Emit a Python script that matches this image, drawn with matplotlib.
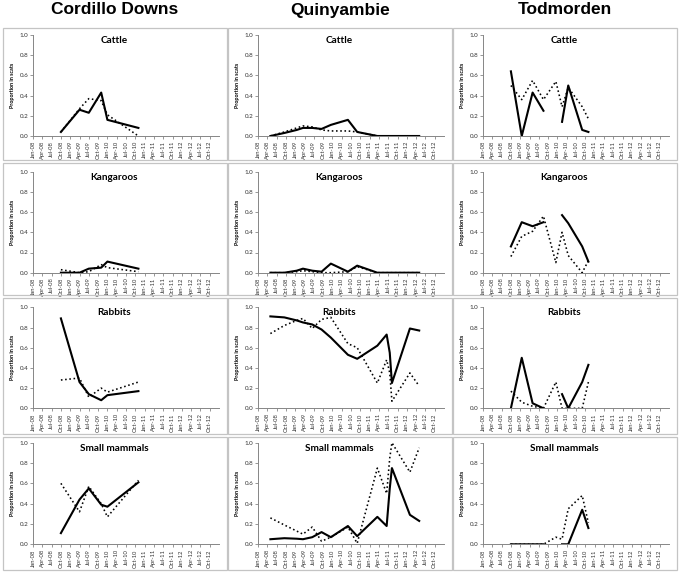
import numpy as np
import matplotlib
matplotlib.use('Agg')
import matplotlib.pyplot as plt
from matplotlib.patches import Rectangle

sites = ['Cordillo Downs', 'Quinyambie', 'Todmorden']
animals = ['Cattle', 'Kangaroos', 'Rabbits', 'Small mammals']
tick_labels = ['Jan-08', 'Apr-08', 'Jul-08', 'Oct-08',
               'Jan-09', 'Apr-09', 'Jul-09', 'Oct-09',
               'Jan-10', 'Apr-10', 'Jul-10', 'Oct-10',
               'Jan-11', 'Apr-11', 'Jul-11', 'Oct-11',
               'Jan-12', 'Apr-12', 'Jul-12', 'Oct-12']

# sampling dates, in months after Jan-08
cd_months = [9, 15, 18, 22, 24, 34]
qy_months = [4, 8.5, 12.5, 14.5, 17.5, 20.5, 23.5, 29, 32, 38.5, 41.5, 42.5, 43.2, 49, 52]
td_months = [9, 12.5, 16, 19.5, 23.5, 25.5, 27.5, 32, 34]

nan = np.nan

# Cordillo Downs
cd_cattle_solid = [0.04, 0.26, 0.23, 0.43, 0.16, 0.08]
cd_cattle_dot = [0.04, 0.27, 0.37, 0.35, 0.21, 0.0]
cd_kang_solid = [0.0, 0.0, 0.04, 0.05, 0.11, 0.04]
cd_kang_dot = [0.03, 0.0, 0.01, 0.08, 0.05, 0.01]
cd_rabbit_solid = [0.89, 0.26, 0.14, 0.08, 0.13, 0.17]
cd_rabbit_dot = [0.28, 0.30, 0.11, 0.20, 0.16, 0.26]
cd_small_solid = [0.11, 0.44, 0.55, 0.39, 0.37, 0.61]
cd_small_dot = [0.60, 0.32, 0.57, 0.40, 0.27, 0.63]

# Quinyambie
qy_cattle_solid = [0.0, 0.03, 0.06, 0.08, 0.08, 0.07, 0.11, 0.16, 0.04, 0.0, 0.0, 0.0, 0.0, 0.0, 0.0]
qy_cattle_dot = [0.0, 0.04, 0.08, 0.10, 0.09, 0.06, 0.05, 0.05, 0.04, 0.0, 0.0, 0.0, 0.0, 0.0, 0.0]
qy_kang_solid = [0.0, 0.0, 0.02, 0.04, 0.02, 0.01, 0.09, 0.01, 0.07, 0.0, 0.0, 0.0, 0.0, 0.0, 0.0]
qy_kang_dot = [0.0, 0.0, 0.01, 0.02, 0.01, 0.0, 0.0, 0.01, 0.06, 0.0, 0.0, 0.0, 0.0, 0.0, 0.0]
qy_rabbit_solid = [0.91, 0.90, 0.87, 0.85, 0.83, 0.78, 0.70, 0.53, 0.49, 0.62, 0.73, 0.55, 0.25, 0.79, 0.77]
qy_rabbit_dot = [0.74, 0.82, 0.87, 0.89, 0.79, 0.88, 0.90, 0.64, 0.60, 0.25, 0.48, 0.35, 0.07, 0.35, 0.22]
qy_small_solid = [0.05, 0.06, 0.055, 0.05, 0.07, 0.12, 0.07, 0.18, 0.08, 0.27, 0.18, 0.55, 0.75, 0.29, 0.23]
qy_small_dot = [0.26, 0.19, 0.13, 0.10, 0.17, 0.03, 0.07, 0.17, 0.01, 0.75, 0.50, 0.85, 1.0, 0.71, 0.95]

# Todmorden
td_cattle_solid = [0.64, 0.0, 0.43, 0.25, nan, 0.14, 0.50, 0.06, 0.04]
td_cattle_dot = [0.50, 0.36, 0.55, 0.36, 0.54, 0.29, 0.48, 0.29, 0.17]
td_kang_solid = [0.26, 0.50, 0.46, 0.50, nan, 0.57, 0.49, 0.26, 0.11]
td_kang_dot = [0.16, 0.36, 0.41, 0.56, 0.10, 0.40, 0.17, 0.0, 0.12]
td_rabbit_solid = [0.0, 0.50, 0.05, 0.0, nan, 0.14, 0.0, 0.26, 0.43]
td_rabbit_dot = [0.17, 0.06, 0.02, 0.0, 0.26, 0.0, 0.0, 0.0, 0.26]
td_small_solid = [0.0, 0.0, 0.0, 0.0, nan, 0.0, 0.0, 0.34, 0.16]
td_small_dot = [0.0, 0.0, 0.0, 0.0, 0.07, 0.05, 0.35, 0.48, 0.21]

months = [cd_months, qy_months, td_months]
series = [
    [(cd_cattle_solid, cd_cattle_dot), (cd_kang_solid, cd_kang_dot),
     (cd_rabbit_solid, cd_rabbit_dot), (cd_small_solid, cd_small_dot)],
    [(qy_cattle_solid, qy_cattle_dot), (qy_kang_solid, qy_kang_dot),
     (qy_rabbit_solid, qy_rabbit_dot), (qy_small_solid, qy_small_dot)],
    [(td_cattle_solid, td_cattle_dot), (td_kang_solid, td_kang_dot),
     (td_rabbit_solid, td_rabbit_dot), (td_small_solid, td_small_dot)],
]

# layout in pixels
W, H = 683, 573
col_left = [3, 228, 453]
panel_w = 224
row_top = [28, 163, 298, 437]
row_bottom = [160, 295, 434, 570]
plot_top = [35, 171.7, 307.3, 442.7]
plot_bottom = [136, 272.7, 408.3, 544.3]

axis_grey = '#868686'

fig = plt.figure(figsize=(W / 100, H / 100), dpi=100)

for c, site in enumerate(sites):
    left = col_left[c]
    fig.text((left + panel_w / 2) / W, 1 - 10 / H, site, ha='center', va='center',
             fontsize=12.5, fontweight='bold', family='Liberation Sans')
    for r, animal in enumerate(animals):
        # light frame round each small chart
        fig.patches.append(Rectangle((left / W, 1 - row_bottom[r] / H),
                                     panel_w / W, (row_bottom[r] - row_top[r]) / H,
                                     transform=fig.transFigure, fill=False,
                                     ec='#c4c4c4', lw=0.9))
        ax = fig.add_axes([(left + 30) / W, 1 - plot_bottom[r] / H,
                           186 / W, (plot_bottom[r] - plot_top[r]) / H])
        solid, dot = series[c][r]
        ax.plot(months[c], dot, color='black', lw=1.15, ls=':')
        ax.plot(months[c], solid, color='black', lw=1.5)

        ax.set_xlim(0, 60)
        ax.set_ylim(0, 1)
        ax.set_xticks(np.arange(0, 60, 3))
        ax.set_xticklabels(tick_labels, rotation=90, fontsize=4.2, family='Lato', color='#333333')
        ax.set_yticks([0, 0.2, 0.4, 0.6, 0.8, 1.0])
        ax.set_yticklabels(['0.0', '0.2', '0.4', '0.6', '0.8', '1.0'], fontsize=4.5,
                           family='Lato', color='#333333')
        ax.tick_params(length=2, width=0.6, color=axis_grey, pad=1.5)
        for s in ['top', 'right']:
            ax.spines[s].set_visible(False)
        for s in ['left', 'bottom']:
            ax.spines[s].set_color(axis_grey)
            ax.spines[s].set_linewidth(0.7)
        ax.set_ylabel('Proportion in scats', fontsize=3.9, fontweight='bold', family='Lato')
        ax.yaxis.set_label_coords(-18 / 186, 0.5)

        fig.text((left + 111) / W, 1 - (plot_top[r] + 5.5) / H, animal, ha='center',
                 va='center', fontsize=7.2, fontweight='bold', family='Lato')

fig.savefig('out.png', dpi=100)
